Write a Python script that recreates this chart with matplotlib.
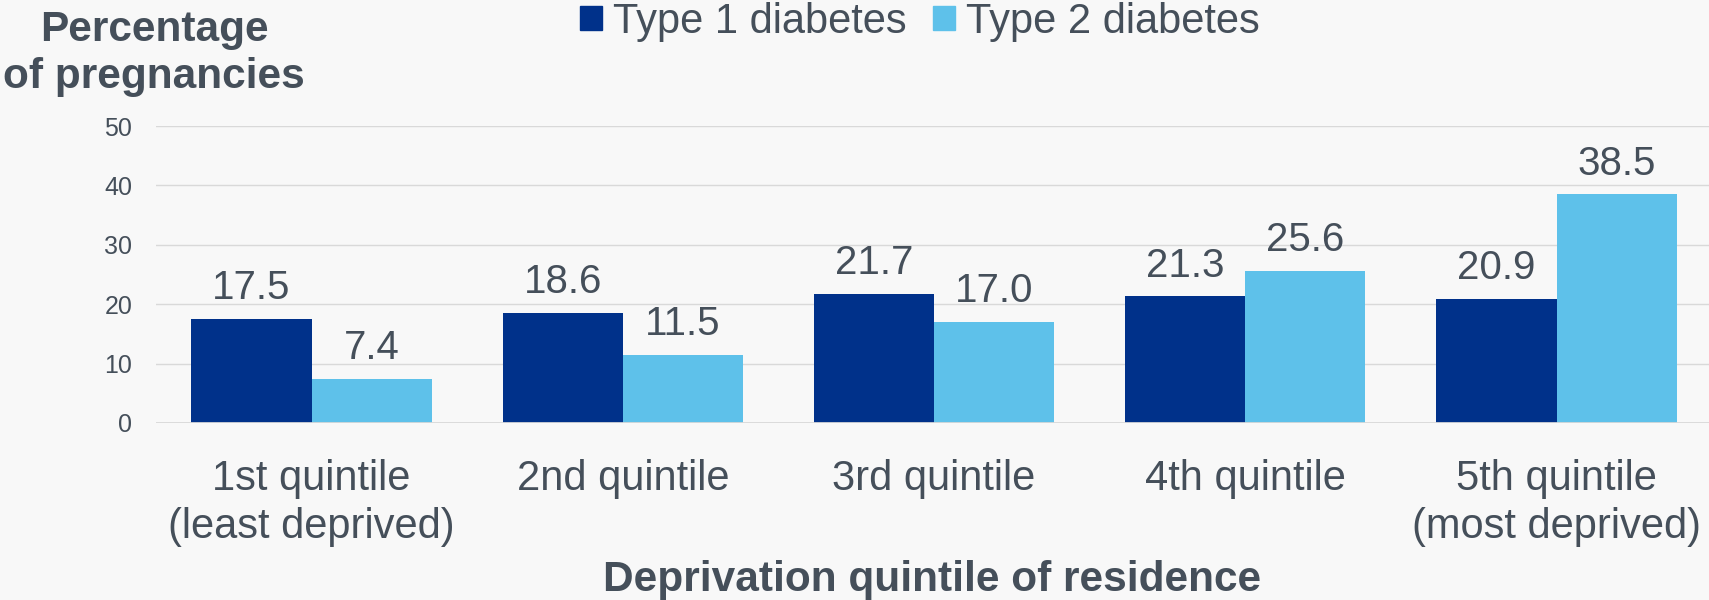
import numpy as np
import matplotlib
matplotlib.use('Agg')
import matplotlib.pyplot as plt
from matplotlib.patches import Patch

categories = ['1st quintile\n(least deprived)', '2nd quintile', '3rd quintile',
              '4th quintile', '5th quintile\n(most deprived)']
type1 = [17.5, 18.6, 21.7, 21.3, 20.9]
type2 = [7.4, 11.5, 17.0, 25.6, 38.5]
series_names = ['Type 1 diabetes', 'Type 2 diabetes']
yticks = [0, 10, 20, 30, 40, 50]

dark = '#00318A'
light = '#5EC1EA'
txt = '#454F5A'
bg = '#F8F8F8'

plt.rcParams['font.family'] = ['Liberation Sans', 'DejaVu Sans']

fig = plt.figure(figsize=(17.09, 6), dpi=100, facecolor=bg)
ax = fig.add_axes([156 / 1709, 1 - 423 / 600, 1 - 156 / 1709, 297 / 600])
ax.set_facecolor(bg)

x = np.arange(len(categories))
w = 0.386
b1 = ax.bar(x - w / 2, type1, w, color=dark, zorder=3)
b2 = ax.bar(x + w / 2, type2, w, color=light, zorder=3)
ax.bar_label(b1, fmt='%.1f', padding=8.5, fontsize=29, color=txt)
ax.bar_label(b2, fmt='%.1f', padding=8.5, fontsize=29, color=txt)

ax.set_xlim(-0.5, 4.49)
ax.set_ylim(0, 50)
ax.set_yticks(yticks)
ax.set_xticks(x)
ax.set_xticklabels(categories, fontsize=30, color=txt, linespacing=1.24)
ax.tick_params(axis='x', length=0, pad=26)
ax.tick_params(axis='y', length=0, pad=17, labelsize=18, labelcolor=txt)
ax.grid(axis='y', color='#D9D9D9', linewidth=1.0, zorder=0)
ax.axhline(0, color='#D9D9D9', linewidth=2, zorder=4)
for s in ax.spines.values():
    s.set_visible(False)

fig.text(154 / 1709, 1 - 10.5 / 600, 'Percentage\nof pregnancies', ha='center', va='top',
         fontsize=30.5, fontweight='bold', color=txt, linespacing=1.2)
fig.text(0.5 * (156 + 1709) / 1709, 1 - 591 / 600, 'Deprivation quintile of residence',
         ha='center', va='baseline', fontsize=30.5, fontweight='bold', color=txt)

handles = [Patch(color=dark), Patch(color=light)]
leg = fig.legend(handles, series_names, loc='center', bbox_to_anchor=(920 / 1709, 1 - 22 / 600),
                 ncol=2, frameon=False, fontsize=30, handlelength=0.52, handleheight=0.52,
                 handletextpad=0.26, columnspacing=0.65, borderpad=0, borderaxespad=0)
for t in leg.get_texts():
    t.set_color(txt)

fig.savefig('out.png', dpi=100, facecolor=bg)
